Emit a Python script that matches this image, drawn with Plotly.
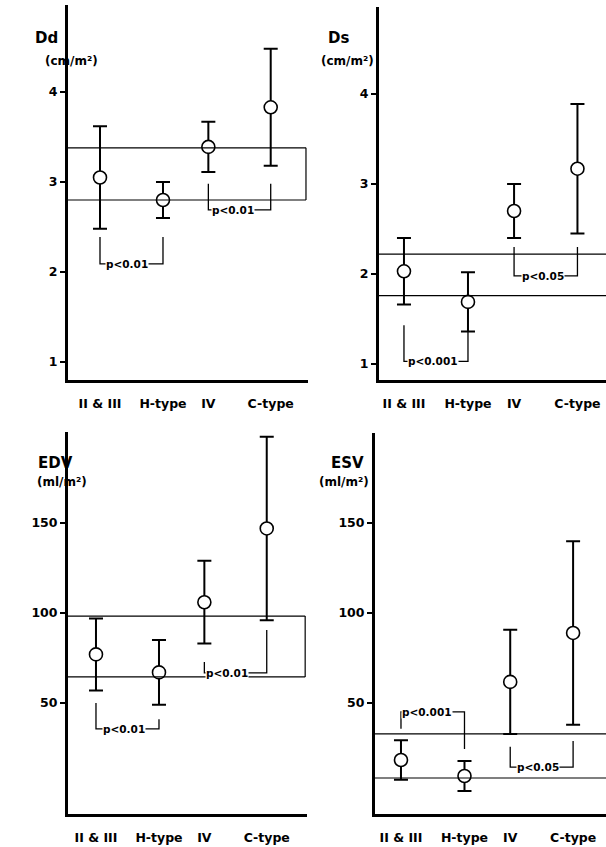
import plotly.graph_objects as go

# Patient groups and their horizontal positions on each panel's x axis
groups = ["II & III", "H-type", "IV", "C-type"]
group_pos = [0, 1, 1.72, 2.71]

# Dd: diastolic dimension index (cm/m²), mean ± SD
dd_mean = [3.05, 2.80, 3.39, 3.83]
dd_sd = [0.57, 0.20, 0.28, 0.65]
dd_ref = [3.38, 2.80]

# Ds: systolic dimension index (cm/m²)
ds_mean = [2.03, 1.69, 2.70, 3.17]
ds_sd = [0.37, 0.33, 0.30, 0.72]
ds_ref = [2.22, 1.76]

# EDV: end-diastolic volume index (ml/m²)
edv_mean = [77, 67, 106, 147]
edv_sd = [20, 18, 23, 51]
edv_ref = [98.3, 64.5]

# ESV: end-systolic volume index (ml/m²)
esv_mean = [18.3, 9.4, 61.7, 88.9]
esv_sd = [11, 8.3, 29, 51]
esv_ref = [32.8, 8.3]

W, H = 606, 847
FONT = "DejaVu Sans"

panels = [
    dict(name="Dd", unit="(cm/m²)", mean=dd_mean, sd=dd_sd, ref=dd_ref,
         ticks=[1, 2, 3, 4], frame=(68, 5, 308, 380),
         xr=[-0.508, 3.302], yr=[0.80, 4.967], join=3.27,
         title_xy=(33, 27), unit_xy=(43, 52),
         brackets=[
             dict(x0=0, x1=1, y0=2.39, y1=2.39, yb=2.09, tx=0.43, label="p<0.01"),
             dict(x0=1.72, x1=2.71, y0=2.98, y1=2.98, yb=2.69, tx=2.11, label="p<0.01"),
         ]),
    dict(name="Ds", unit="(cm/m²)", mean=ds_mean, sd=ds_sd, ref=ds_ref,
         ticks=[1, 2, 3, 4], frame=(379, 7, 606, 380),
         xr=[-0.39, 3.156], yr=[0.822, 4.967], join=None,
         title_xy=(338, 27), unit_xy=(347, 52),
         brackets=[
             dict(x0=0, x1=1, y0=1.43, y1=1.37, yb=1.03, tx=0.45, label="p<0.001"),
             dict(x0=1.72, x1=2.71, y0=2.30, y1=2.30, yb=1.98, tx=2.17, label="p<0.05"),
         ]),
    dict(name="EDV", unit="(ml/m²)", mean=edv_mean, sd=edv_sd, ref=edv_ref,
         ticks=[50, 100, 150], frame=(68, 432, 307, 814),
         xr=[-0.444, 3.349], yr=[-11.7, 200.6], join=3.32,
         title_xy=(36, 463), unit_xy=(35, 482),
         brackets=[
             dict(x0=0, x1=1, y0=50, y1=41, yb=35.6, tx=0.44, label="p<0.01"),
             dict(x0=1.72, x1=2.71, y0=72.8, y1=90.6, yb=66.7, tx=2.08, label="p<0.01"),
         ]),
    dict(name="ESV", unit="(ml/m²)", mean=esv_mean, sd=esv_sd, ref=esv_ref,
         ticks=[50, 100, 150], frame=(375, 433, 606, 814),
         xr=[-0.409, 3.228], yr=[-11.7, 200.0], join=None,
         title_xy=(347, 463), unit_xy=(344, 482),
         brackets=[
             dict(x0=0, x1=1, y0=35.6, y1=24.4, yb=45.0, tx=0.41, label="p<0.001"),
             dict(x0=1.72, x1=2.71, y0=25.6, y1=28.9, yb=14.4, tx=2.16, label="p<0.05"),
         ]),
]

fig = go.Figure()
shapes, annotations = [], []
layout = {}

for i, p in enumerate(panels, start=1):
    sfx = "" if i == 1 else str(i)
    xa, ya = "x" + sfx, "y" + sfx
    left, top, right, bottom = p["frame"]

    layout["xaxis" + sfx] = dict(
        domain=[left / W, right / W], range=p["xr"], anchor=ya,
        tickvals=group_pos, ticktext=groups, ticks="outside", ticklen=10,
        tickcolor="rgba(0,0,0,0)", showgrid=False, zeroline=False,
        showline=True, linecolor="black", linewidth=3,
        tickfont=dict(family=FONT, size=12.5, color="black", weight="bold"),
        fixedrange=True,
    )
    layout["yaxis" + sfx] = dict(
        domain=[1 - bottom / H, 1 - top / H], range=p["yr"], anchor=xa,
        tickvals=p["ticks"], ticks="outside", ticklen=5, tickwidth=2,
        tickcolor="black", showgrid=False, zeroline=False,
        showline=True, linecolor="black", linewidth=3,
        tickfont=dict(family=FONT, size=12.5, color="black", weight="bold"),
        fixedrange=True,
    )

    # Reference (control) levels
    x_end = p["join"] if p["join"] is not None else p["xr"][1]
    for r in p["ref"]:
        shapes.append(dict(type="line", xref=xa, yref=ya, x0=p["xr"][0], x1=x_end,
                           y0=r, y1=r, line=dict(color="black", width=1.2)))
    if p["join"] is not None:
        shapes.append(dict(type="line", xref=xa, yref=ya, x0=x_end, x1=x_end,
                           y0=p["ref"][0], y1=p["ref"][1],
                           line=dict(color="black", width=1.2)))

    # Significance brackets
    for b in p["brackets"]:
        path = (f"M {b['x0']},{b['y0']} L {b['x0']},{b['yb']} "
                f"L {b['x1']},{b['yb']} L {b['x1']},{b['y1']}")
        shapes.append(dict(type="path", xref=xa, yref=ya, path=path,
                           line=dict(color="black", width=1.3)))
        annotations.append(dict(
            xref=xa, yref=ya, x=b["tx"], y=b["yb"], text=b["label"],
            showarrow=False, bgcolor="white", borderpad=0,
            font=dict(family=FONT, size=10.5, color="black", weight="bold")))

    # Group means with SD bars
    fig.add_trace(go.Scatter(
        x=group_pos, y=p["mean"], xaxis=xa, yaxis=ya, mode="markers",
        error_y=dict(type="data", array=p["sd"], visible=True,
                     color="black", thickness=2, width=7),
        marker=dict(symbol="circle", size=13, color="white",
                    line=dict(color="black", width=1.6)),
        showlegend=False, hoverinfo="skip", cliponaxis=False,
    ))

    # Variable name and unit
    tx, ty = p["title_xy"]
    annotations.append(dict(xref="paper", yref="paper", x=tx / W, y=1 - ty / H,
                            text=p["name"], showarrow=False,
                            font=dict(family=FONT, size=15, color="black", weight="bold")))
    ux, uy = p["unit_xy"]
    annotations.append(dict(xref="paper", yref="paper", x=ux / W, y=1 - uy / H,
                            text=p["unit"], showarrow=False,
                            font=dict(family=FONT, size=12, color="black", weight="bold")))

fig.update_layout(
    width=W, height=H, margin=dict(l=0, r=0, t=0, b=0),
    paper_bgcolor="white", plot_bgcolor="white",
    shapes=shapes, annotations=annotations, showlegend=False,
    **layout,
)

fig.write_html("out.html", config={"displayModeBar": False})
